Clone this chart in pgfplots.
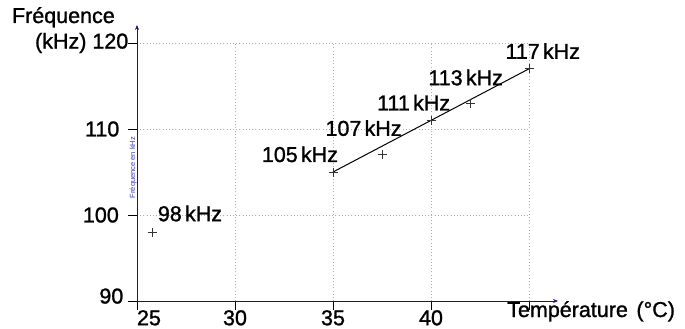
\documentclass[border=0pt]{standalone}
\usepackage{pgfplots}
\pgfplotsset{compat=1.18}
\usepackage{fontspec}
\setmainfont[FakeBold=1.2]{Liberation Sans}
\usetikzlibrary{arrows.meta}
\definecolor{axblue}{RGB}{20,20,130}
\definecolor{lblblue}{RGB}{60,60,190}
\newfontfamily\thinfont{Liberation Sans}
\newcommand{\kHz}{\kern0.15em kHz}
\begin{document}
\begin{tikzpicture}
\useasboundingbox (-137bp,-28bp) rectangle (548bp,301bp);
\begin{axis}[
  at={(0,0)}, anchor=south west,
  x=19.6bp, y=8.6bp,
  xmin=25, xmax=45, ymin=90, ymax=120,
  axis lines=left,
  x axis line style={draw=axblue, line width=0.8bp, shorten >=-29bp, -{Stealth[length=5bp,width=4bp]}},
  y axis line style={draw=axblue, line width=0.8bp, shorten >=-18bp, -{Stealth[length=5bp,width=4bp]}},
  tick align=outside,
  major tick length=8.5bp,
  tick style={black, line width=0.8bp},
  xtick={25,30,35,40,45},
  xticklabels={\makebox[0pt][l]{25},30,35,40,{}},
  ytick={90,100,110,120},
  yticklabels={\raisebox{10bp}{90}\rule{5bp}{0pt},100\rule{9.5bp}{0pt},110\rule{9bp}{0pt},(kHz) 120},
  xticklabel style={inner sep=0pt, anchor=north, yshift=-0.5bp},
  yticklabel style={inner sep=0pt, anchor=east},
  ticklabel style={font=\fontsize{21.5bp}{25bp}\selectfont},
  /pgf/number format/assume math mode=true,
  grid=major,
  grid style={gray!65, line width=0.6bp, dash pattern=on 0.8bp off 2.4bp},
  ylabel={Fréquence en kHz},
  ylabel style={at={(axis description cs:0,0.523)}, anchor=south, rotate=0, xshift=-1.5bp, inner sep=0pt, text=lblblue, font=\thinfont\fontsize{7.5bp}{9bp}\selectfont},
  xlabel={Température\hspace{0.4em}(°C)},
  xlabel style={at={(axis description cs:0,0)}, anchor=base west, xshift=370bp, yshift=-16bp, inner sep=0pt, font=\fontsize{21.5bp}{25bp}\selectfont},
  clip=false,
]
\addplot[only marks, mark=+, mark size=4.5bp, black!80, mark options={line width=0.7bp}]
  coordinates {(25.8,98) (35,105) (37.5,107) (40,111) (42,113) (45,117)};
\addplot[black, line width=1bp, no marks] coordinates {(35,105) (45,117)};
\begin{scope}[every node/.style={inner sep=0pt, anchor=base west, font=\fontsize{21.5bp}{25bp}\selectfont}]
\node at ([xshift=5bp,yshift=11bp]axis cs:25.8,98) {98\kHz};
\node at ([xshift=-71.3bp,yshift=10bp]axis cs:35,105) {105\kHz};
\node at ([xshift=-56.7bp,yshift=19bp]axis cs:37.5,107) {107\kHz};
\node at ([xshift=-54bp,yshift=10bp]axis cs:40,111) {111\kHz};
\node at ([xshift=-42bp,yshift=18bp]axis cs:42,113) {113\kHz};
\node at ([xshift=-23.7bp,yshift=10bp]axis cs:45,117) {117\kHz};
\node[anchor=base east] at ([xshift=-22bp,yshift=278bp]rel axis cs:0,0) {Fréquence};
\end{scope}
\end{axis}
\end{tikzpicture}
\end{document}
